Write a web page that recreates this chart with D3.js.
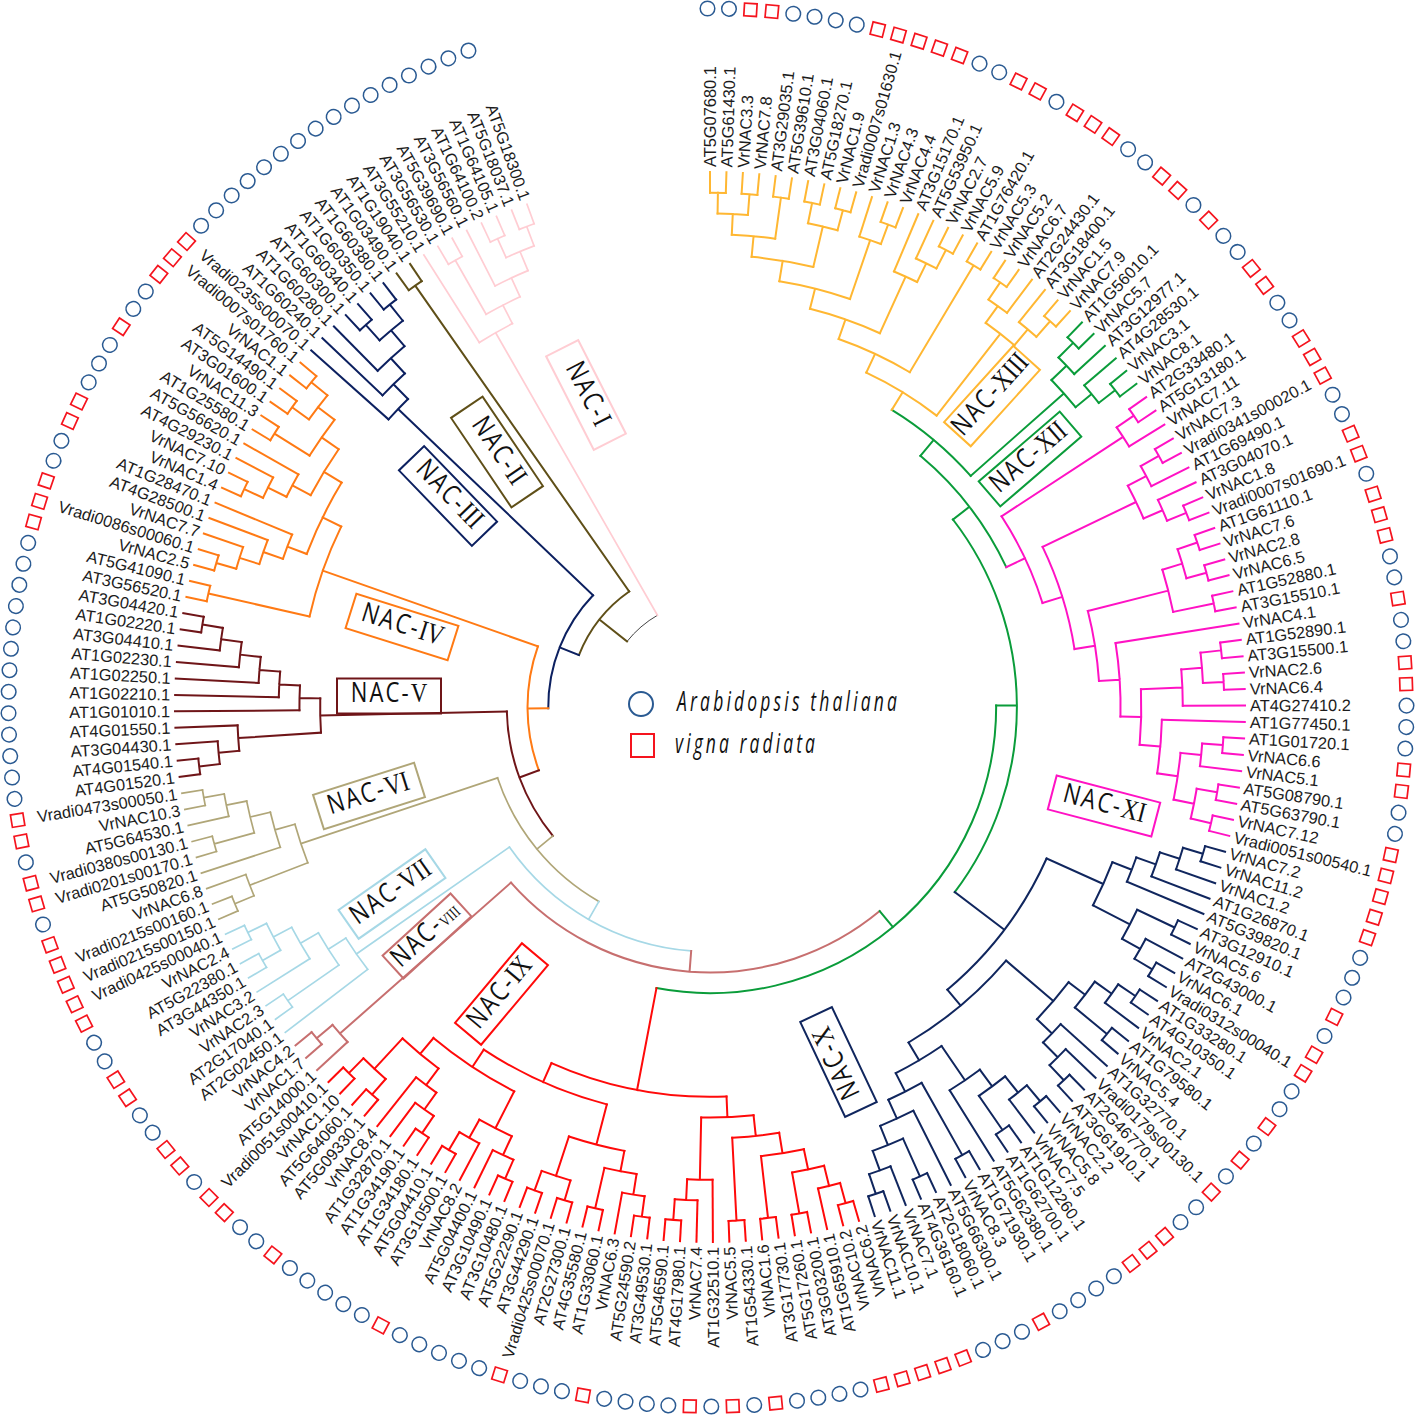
<!DOCTYPE html>
<html>
<head>
<meta charset="utf-8">
<script src="https://cdn.jsdelivr.net/npm/d3@7"></script>
<style>
body { margin: 0; background: #fff; }
.leaf { font-family: "Liberation Sans", Arial, sans-serif; font-size: 16.4px; fill: #1c1c1c; }
.branch { fill: none; stroke-linecap: square; }
</style>
</head>
<body>
<script>
// trees are written clockwise, starting at the top of the circle
var cladeXIII = [
	[[[[[[["AT5G07680.1", "AT5G61430.1"], ["VrNAC3.3", "VrNAC7.8"]], ["AT3G29035.1", "AT5G39610.1"]],
		[["AT3G04060.1", "AT5G18270.1"], ["VrNAC1.9", "Vradi0007s01630.1"]]],
		["VrNAC1.3", ["VrNAC4.3", "VrNAC4.4"]]],
		["AT3G15170.1", ["AT5G53950.1", ["VrNAC2.7", "VrNAC5.9"]]]],
		["AT1G76420.1", "VrNAC5.3"]],
	[[["VrNAC5.2", "VrNAC6.7"], "AT2G24430.1"], ["AT3G18400.1", ["VrNAC1.5", "VrNAC7.9"]]]
];
var cladeXII = [
	[["AT1G56010.1", "VrNAC5.7"], "AT3G12977.1"],
	["AT4G28530.1", ["VrNAC3.1", "VrNAC8.1"]]
];
var cladeXI = [
	[["AT2G33480.1", "AT5G13180.1"], "VrNAC7.11"],
	[[[["VrNAC7.3", "Vradi0341s00020.1"], "AT1G69490.1"], ["AT3G04070.1", ["VrNAC1.8", "Vradi0007s01690.1"]]],
	[[[["AT1G61110.1", "VrNAC7.6"], ["VrNAC2.8", "VrNAC6.5"]], ["AT1G52880.1", "AT3G15510.1"]],
	["VrNAC4.1",
		[[[["AT1G52890.1", "AT3G15500.1"], ["VrNAC2.6", "VrNAC6.4"]], "AT4G27410.2"],
		["AT1G77450.1",
			[[["AT1G01720.1", "VrNAC6.6"], "VrNAC5.1"],
			[["AT5G08790.1", "AT5G63790.1"], ["VrNAC7.12", "Vradi0051s00540.1"]]]]]]]]
];
var cladeX = [
	[[[[["VrNAC7.2", "VrNAC11.2"], "VrNAC1.2"], "AT1G26870.1"], "AT5G39820.1"],
		[["AT3G12910.1", "VrNAC5.6"], ["AT2G43000.1", ["VrNAC6.1", "Vradi0312s00040.1"]]]],
	[[[[["AT1G33280.1", "AT4G10350.1"], "VrNAC2.1"], ["AT1G79580.1", "VrNAC5.4"]],
		["AT1G32770.1", ["Vradi0179s00130.1", ["AT2G46770.1", "AT3G61910.1"]]]],
	[[[[["VrNAC2.2", "VrNAC5.8"], "VrNAC7.5"], ["AT1G12260.1", "AT1G62700.1"]], "AT5G62380.1"],
		[["AT1G71930.1", "VrNAC8.3"],
		["AT5G66300.1", [["AT2G18060.1", "AT4G36160.1"], ["VrNAC7.1", ["VrNAC10.1", "VrNAC11.1"]]]]]]]
];
var cladeIX = [
	[[[[[["VrNAC6.2", "VrNAC10.2"], "AT1G65910.1"], ["AT3G03200.1", "AT5G17260.1"]],
		["AT3G17730.1", "VrNAC1.6"]], ["AT1G54330.1", "VrNAC5.5"]],
		["AT1G32510.1", ["VrNAC7.4", ["AT4G17980.1", "AT5G46590.1"]]]],
	[[[[["AT3G49530.1", "AT5G24590.2"], "VrNAC6.3"], ["AT1G33060.1", "AT4G35580.1"]],
		[["AT2G27300.1", "Vradi0425s00070.1"], ["AT3G44290.1", "AT5G22290.1"]]],
	[[[["AT3G10480.1", "AT3G10490.1"], "AT5G04400.1"], ["VrNAC8.2", ["AT3G10500.1", "AT5G04410.1"]]],
		[[[["AT1G34180.1", "AT1G34190.1"], "AT1G32870.1"], "VrNAC8.4"],
		[["AT5G09330.1", "AT5G64060.1"], ["VrNAC1.10", "Vradi0051s00410.1"]]]]]
];
var cladeVIII = ["AT5G14000.1", ["VrNAC1.7", "VrNAC4.2"]];
var cladeVII = ["AT2G02450.1", [["AT2G17040.1", "VrNAC2.3"], ["VrNAC3.2",
	[["AT3G44350.1", "AT5G22380.1"], ["VrNAC2.4", "Vradi0425s00040.1"]]]]];
var cladeVI = [
	[["Vradi0215s00150.1", "Vradi0215s00160.1"], "VrNAC6.8"],
	["AT5G50820.1", [["Vradi0201s00170.1", "Vradi0380s00130.1"],
		["AT5G64530.1", ["VrNAC10.3", "Vradi0473s00050.1"]]]]
];
var cladeV = [
	[[["AT4G01520.1", "AT4G01540.1"], "AT3G04430.1"], "AT4G01550.1"],
	["AT1G01010.1", ["AT1G02210.1", ["AT1G02250.1", ["AT1G02230.1",
		["AT3G04410.1", ["AT1G02220.1", "AT3G04420.1"]]]]]]
];
var cladeIV = [
	["AT3G56520.1", "AT5G41090.1"],
	[[[[["VrNAC2.5", "Vradi0086s00060.1"], "VrNAC7.7"], "AT4G28500.1"], "AT1G28470.1"],
	[[[["VrNAC1.4", "VrNAC7.10"], "AT4G29230.1"], "AT5G56620.1"],
	[["AT1G25580.1", "VrNAC11.3"], [["AT3G01600.1", "AT5G14490.1"], ["VrNAC1.1", "Vradi0007s01760.1"]]]]]
];
var cladeIII = ["Vradi0235s00070.1", ["AT1G60240.1", ["AT1G60280.1",
	[["AT1G60300.1", "AT1G60340.1"], ["AT1G60350.1", "AT1G60380.1"]]]]];
var cladeII = ["AT1G03490.1", "AT1G19040.1"];
var cladeI = ["AT3G55210.1", [["AT3G56530.1", "AT5G39690.1"],
	["AT3G56560.1", [["AT1G64100.2", "AT1G64105.1"], ["AT5G18037.1", "AT5G18300.1"]]]]];

var cladeTrees = [cladeXIII, cladeXII, cladeXI, cladeX, cladeIX, cladeVIII, cladeVII, cladeVI, cladeV, cladeIV, cladeIII, cladeII, cladeI];
var cladeNames = ["XIII", "XII", "XI", "X", "IX", "VIII", "VII", "VI", "V", "IV", "III", "II", "I"];
var cladeColors = ["#ffb732", "#0a9c3a", "#ff12c4", "#10265e", "#ff0a0a", "#c76f6f", "#a6d8e6", "#b0a678", "#6f1518", "#ff7a14", "#0c2060", "#5f4f18", "#ffcdd3"];
// colour of the arc that joins each clade to the rest of the tree
var backboneColors = [null, "#0a9c3a", "#0a9c3a", "#0a9c3a", "#0a9c3a", "#c76f6f", "#a6d8e6", "#b0a678", "#6f1518", "#ff7a14", "#0c2060", "#5f4f18", "#444444"];
var speciesNames = ["Arabidopsis thaliana", "vigna radiata"];

// tag boxes, same order as cladeNames: centre, turn, width, height
var boxLayout = [
	[992, 396, -47.8, 103, 36], [1030, 459, -40.8, 107, 33], [1104, 806, 14.7, 107, 35],
	[838.5, 1062, -115.3, 105, 35], [501.5, 994, -50, 104, 34], [427, 936, -42.4, 92, 31],
	[392, 894, -35, 106, 35], [369, 796, -17.6, 106, 36], [389, 696, 0, 104, 35],
	[402, 627, 17.5, 107, 36], [448, 496, 46, 105, 35], [497, 452, 56, 108, 38], [586, 395, 63, 105, 36]
];

var cx = 710, cy = 707;
var tipRadius = 535, span = 340;
// the marker ring sits a little off the tree centre in the picture
var ringX = 707.5, ringY = 707.5, ringRadius = 699;

function build(x) {
	if (typeof x === "string") return { name: x };
	return { children: x.map(build) };
}

var whole = build(cladeTrees[0]);
whole.color = cladeColors[0];
for (var i = 1; i < cladeTrees.length; i++) {
	var sub = build(cladeTrees[i]);
	sub.color = cladeColors[i];
	whole = { children: [whole, sub], color: backboneColors[i] };
}

var root = d3.hierarchy(whole);
var leaves = root.leaves();

var angle = d3.scaleLinear()
	.domain([0, leaves.length - 1])
	.range([0, span * Math.PI / 180]);

// topology only: radius follows the number of levels above the tips
var radius = d3.scaleLinear()
	.domain([0, 19])
	.range([tipRadius, 141]);
var rootLevel = 20.7;

leaves.forEach(function(d, i) { d.a = angle(i); });
root.eachAfter(function(d) {
	if (d.children) d.a = (d.children[0].a + d.children[d.children.length - 1].a) / 2;
	d.r = d.parent ? radius(d.height) : radius(rootLevel);
});
root.eachBefore(function(d) {
	d.color = d.data.color || (d.parent ? d.parent.color : "#444");
});

var svg = d3.select("body").append("svg")
	.attr("width", 1416)
	.attr("height", 1419)
	.style("display", "block");

var tree = svg.append("g").attr("transform", "translate(" + cx + "," + cy + ")");

function branchPath(d) {
	var p = d3.path();
	if (d.parent) {
		var a = d3.pointRadial(d.a, d.parent.r);
		var b = d3.pointRadial(d.a, d.r);
		p.moveTo(a[0], a[1]);
		p.lineTo(b[0], b[1]);
	}
	if (d.children) {
		var a0 = d.children[0].a - Math.PI / 2;
		var a1 = d.children[d.children.length - 1].a - Math.PI / 2;
		var s = d3.pointRadial(d.children[0].a, d.r);
		p.moveTo(s[0], s[1]);
		p.arc(0, 0, d.r, a0, a1);
	}
	return p.toString();
}

tree.selectAll("path.branch")
	.data(root.descendants())
	.enter()
	.append("path")
	.attr("class", "branch")
	.attr("d", branchPath)
	.attr("stroke", function(d) { return d.color; })
	.attr("stroke-width", function(d) {
		if (!d.parent) return 1;
		return d.color === "#ffcdd3" || d.color === "#a6d8e6" || d.color === "#b0a678" ? 1.7 : 2;
	});

// labels turn over just past the lower right
var flipAt = 163 * Math.PI / 180;

tree.selectAll("text.leaf")
	.data(leaves)
	.enter()
	.append("text")
	.attr("class", "leaf")
	.attr("dy", "0.35em")
	.attr("text-anchor", function(d) { return d.a > flipAt ? "end" : "start"; })
	.attr("transform", function(d) {
		var deg = d.a * 180 / Math.PI - 90;
		var t = "rotate(" + deg + ") translate(" + (tipRadius + 5) + ",0)";
		return d.a > flipAt ? t + " rotate(180)" : t;
	})
	.text(function(d) { return d.data.name; });

function isArabidopsis(name) {
	return name.indexOf("AT") === 0;
}

var ring = svg.append("g")
	.attr("transform", "translate(" + ringX + "," + ringY + ")")
	.selectAll("g.mark")
	.data(leaves)
	.enter()
	.append("g")
	.attr("class", "mark")
	.attr("transform", function(d) {
		var p = d3.pointRadial(d.a, ringRadius);
		return "translate(" + p[0] + "," + p[1] + ") rotate(" + (d.a * 180 / Math.PI) + ")";
	});

ring.filter(function(d) { return isArabidopsis(d.data.name); })
	.append("circle")
	.attr("r", 7.3)
	.attr("fill", "none")
	.attr("stroke", "#2a5a92")
	.attr("stroke-width", 1.5);

ring.filter(function(d) { return !isArabidopsis(d.data.name); })
	.append("rect")
	.attr("x", -6.3)
	.attr("y", -6.3)
	.attr("width", 12.6)
	.attr("height", 12.6)
	.attr("fill", "none")
	.attr("stroke", "#f5141e")
	.attr("stroke-width", 1.7);

// clade tags
var tags = svg.selectAll("g.tag")
	.data(cladeNames)
	.enter()
	.append("g")
	.attr("class", "tag")
	.attr("transform", function(d, i) {
		var b = boxLayout[i];
		return "translate(" + b[0] + "," + b[1] + ") rotate(" + b[2] + ")";
	});

tags.append("rect")
	.attr("x", function(d, i) { return -boxLayout[i][3] / 2; })
	.attr("y", function(d, i) { return -boxLayout[i][4] / 2; })
	.attr("width", function(d, i) { return boxLayout[i][3]; })
	.attr("height", function(d, i) { return boxLayout[i][4]; })
	.attr("fill", "none")
	.attr("stroke", function(d, i) { return cladeColors[i]; })
	.attr("stroke-width", 2);

// no narrow face installed, so squeeze the text sideways
var tagText = tags.append("text")
	.attr("text-anchor", "middle")
	.attr("dy", "0.36em")
	.attr("transform", "scale(0.85,1.05)")
	.attr("fill", "#111");

tagText.append("tspan")
	.attr("font-family", "'Open Sans', sans-serif")
	.attr("font-size", 26)
	.attr("letter-spacing", 2.5)
	.text("NAC-");

tagText.append("tspan")
	.attr("font-family", "'Liberation Serif', serif")
	.attr("font-size", function(d) { return d === "VIII" ? 15 : 27; })
	.text(function(d) { return d; });

// legend
svg.append("circle")
	.attr("cx", 641).attr("cy", 704).attr("r", 12)
	.attr("fill", "none").attr("stroke", "#2a5a92").attr("stroke-width", 2);
svg.append("rect")
	.attr("x", 631).attr("y", 734).attr("width", 23).attr("height", 23)
	.attr("fill", "none").attr("stroke", "#f5141e").attr("stroke-width", 2);

svg.selectAll("text.species")
	.data(speciesNames)
	.enter()
	.append("text")
	.attr("class", "species")
	.attr("transform", function(d, i) {
		return "translate(" + (i ? 675 : 677) + "," + (i ? 753 : 711) + ") scale(0.7,1.08)";
	})
	.attr("textLength", function(d, i) { return (i ? 140 : 220) / 0.7; })
	.attr("lengthAdjust", "spacing")
	.attr("font-family", "'Open Sans', sans-serif")
	.attr("font-style", "italic")
	.attr("font-size", 25)
	.attr("fill", "#111")
	.text(function(d) { return d; });
</script>
</body>
</html>
